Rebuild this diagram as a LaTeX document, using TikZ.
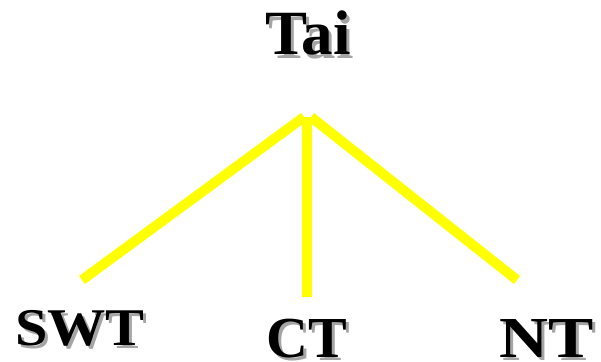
\documentclass[tikz,border=0pt]{standalone}
\usepackage{fontspec}
\setmainfont{Liberation Serif}
\usetikzlibrary{positioning, calc}
\definecolor{branchyellow}{RGB}{255,255,0}
\definecolor{shadowgray}{RGB}{165,165,165}
\tikzset{
  lang/.style={font=\fontsize{58}{60}\selectfont\bfseries, inner sep=0pt, anchor=base},
  biglang/.style={lang, font=\fontsize{63}{65}\selectfont\bfseries},
  widelang/.style={lang, font=\fontsize{53}{55}\selectfont\bfseries, xscale=1.1},
  langshadow/.style={text=shadowgray},
  branch/.style={draw=branchyellow, line width=10pt}
}

\begin{document}
\begin{tikzpicture}[x=1pt, y=-1pt]
  \useasboundingbox (0,0) rectangle (601,361);

  % ── shadows first ───────────────────────────────────────────────
  \node[biglang, langshadow] at (311,58)  {Tai};
  \node[widelang, langshadow] at (83,348) {SWT};
  \node[lang, langshadow] at (310,360)    {CT};
  \node[lang, langshadow, xscale=1.17] at (550,360) {NT};

  % ── labels ─────────────────────────────────────────────────────
  \node[biglang] (tai) at (308,55)  {Tai};
  \node[widelang] (swt) at (80,345) {SWT};
  \node[lang] (ct)  at (307,357)    {CT};
  \node[lang, xscale=1.17] (nt) at (547,357) {NT};

  % ── branch points ──────────────────────────────────────────────
  \coordinate (apexl) at (304,117);
  \coordinate (apexm) at (307,117);
  \coordinate (apexr) at (311,117);
  \coordinate (endswt) at (82,280);
  \coordinate (endct)  at (307,297);
  \coordinate (endnt)  at (517,280);

  \draw[branch] (apexl) -- (endswt);
  \draw[branch] (apexm) -- (endct);
  \draw[branch] (apexr) -- (endnt);
\end{tikzpicture}
\end{document}
